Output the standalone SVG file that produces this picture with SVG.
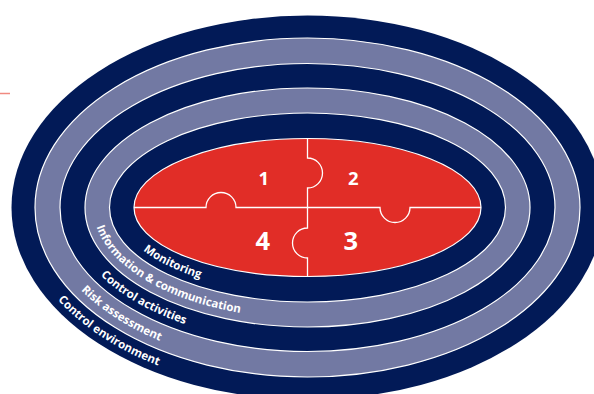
<svg xmlns="http://www.w3.org/2000/svg" width="594" height="394" viewBox="0 0 594 394">
  <style>
    .navy { fill: #021a57; }
    .slate { fill: #7279a3; }
    .sep { stroke: #ffffff; stroke-width: 1.2; }
    .red { fill: #e12d27; stroke: #ffffff; stroke-width: 1.2; }
    .ring-label { font-family: "Open Sans", "Noto Sans", "DejaVu Sans", sans-serif; font-weight: 700; font-size: 11.5px; fill: #ffffff; }
    .num { font-family: "Open Sans", "Noto Sans", "DejaVu Sans", sans-serif; font-weight: 700; fill: #ffffff; text-anchor: middle; }
    .cut { fill: none; stroke: #ffffff; stroke-width: 1.3; }
  </style>
  <defs>
    <path id="p-env" d="M57.9,299.9 A288.25,184.75 0 0 0 595.75,207.5"/>
    <path id="p-risk" d="M81.2,290.3 A264,160.75 0 0 0 571.5,207.5"/>
    <path id="p-act" d="M100.5,275.4 A239,135.75 0 0 0 546.5,207.5"/>
    <path id="p-info" d="M96.5,226.8 A214.25,111 0 0 0 521.75,207.5"/>
    <path id="p-mon" d="M143.2,250.4 A189.75,85.75 0 0 0 497.25,207.5"/>
  </defs>

  <line x1="0" y1="93.5" x2="10" y2="93.5" stroke="#f08a80" stroke-width="1.5"/>

  <g id="control-environment">
    <ellipse class="navy" cx="307.5" cy="207.5" rx="296" ry="192"/>
    <text class="ring-label"><textPath href="#p-env">Control environment</textPath></text>
  </g>
  <g id="risk-assessment">
    <ellipse class="slate sep" cx="307.5" cy="207.5" rx="272.5" ry="169.5"/>
    <text class="ring-label"><textPath href="#p-risk">Risk assessment</textPath></text>
  </g>
  <g id="control-activities">
    <ellipse class="navy sep" cx="307.5" cy="207.5" rx="247.5" ry="144"/>
    <text class="ring-label"><textPath href="#p-act">Control activities</textPath></text>
  </g>
  <g id="information-communication">
    <ellipse class="slate sep" cx="307.5" cy="207.5" rx="222.5" ry="119.5"/>
    <text class="ring-label"><textPath href="#p-info">Information &amp; communication</textPath></text>
  </g>
  <g id="monitoring">
    <ellipse class="navy sep" cx="307.5" cy="207.5" rx="198" ry="94.5"/>
    <text class="ring-label"><textPath href="#p-mon">Monitoring</textPath></text>
  </g>

  <g id="puzzle">
    <ellipse class="red" cx="307.5" cy="207.5" rx="173.5" ry="69"/>
    <path class="cut" d="M307.5,138.5 V158 A15,15 0 0 1 307.5,188 V228 A15,15 0 0 0 307.5,258 V276.5"/>
    <path class="cut" d="M134,207.5 H206 A15,15 0 0 1 236,207.5 H380 A15,15 0 0 0 410,207.5 H481"/>
  </g>
  <g id="piece-1"><text class="num" x="263.8" y="185" font-size="18.5">1</text></g>
  <g id="piece-2"><text class="num" x="353.3" y="185" font-size="18.5">2</text></g>
  <g id="piece-3"><text class="num" x="350.8" y="250" font-size="25.5">3</text></g>
  <g id="piece-4"><text class="num" x="262.7" y="250" font-size="25.5">4</text></g>
</svg>
